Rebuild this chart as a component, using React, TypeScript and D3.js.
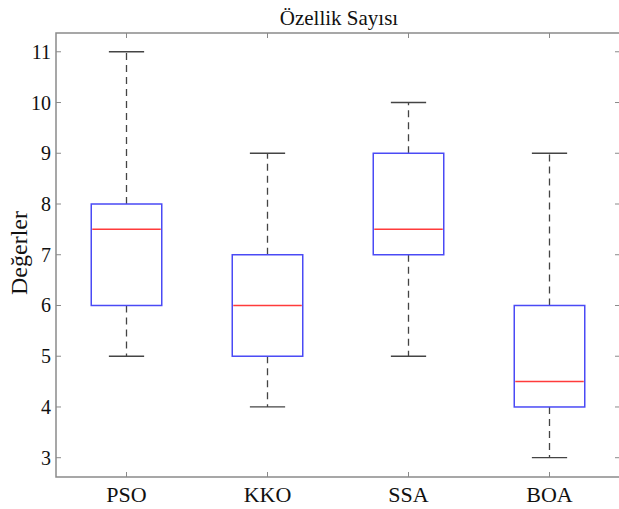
import React, { useEffect, useRef } from "react";
import * as d3 from "d3";

// Box plot values
const categories = ["PSO", "KKO", "SSA", "BOA"];
const whiskerLow = [5, 4, 5, 3];
const quartile1 = [6, 5, 7, 4];
const medians = [7.5, 6, 7.5, 4.5];
const quartile3 = [8, 7, 9, 6];
const whiskerHigh = [11, 9, 10, 9];
const yTicks = [3, 4, 5, 6, 7, 8, 9, 10, 11];

const App = () => {
  const svgRef = useRef<SVGSVGElement | null>(null);

  useEffect(() => {
    const svg = d3.select(svgRef.current);
    svg.selectAll("*").remove();

    const width = 619;
    const height = 509;
    const margin = { top: 33, right: -1, bottom: 32, left: 56 };
    const innerW = width - margin.left - margin.right;
    const innerH = height - margin.top - margin.bottom;
    const font = "'Liberation Serif', 'Times New Roman', serif";

    const g = svg
      .append("g")
      .attr("transform", `translate(${margin.left},${margin.top})`);

    const x = d3.scaleLinear().domain([0.5, categories.length + 0.5]).range([0, innerW]);
    const y = d3.scaleLinear().domain([2.62, 11.37]).range([innerH, 0]);

    const step = x(2) - x(1);
    const boxW = step * 0.5;
    const capW = boxW * 0.5;

    // Frame
    g.append("rect")
      .attr("x", 0)
      .attr("y", 0)
      .attr("width", innerW)
      .attr("height", innerH)
      .attr("fill", "white")
      .attr("stroke", "#8a8a8a")
      .attr("stroke-width", 1.5);

    // Y ticks (inward, left and right)
    yTicks.forEach((t) => {
      g.append("line")
        .attr("x1", 0).attr("x2", 5)
        .attr("y1", y(t)).attr("y2", y(t))
        .attr("stroke", "#8a8a8a");
      g.append("line")
        .attr("x1", innerW).attr("x2", innerW - 5)
        .attr("y1", y(t)).attr("y2", y(t))
        .attr("stroke", "#8a8a8a");
      g.append("text")
        .attr("x", -5)
        .attr("y", y(t))
        .attr("dy", "0.35em")
        .attr("text-anchor", "end")
        .style("font-family", font)
        .style("font-size", "20px")
        .attr("fill", "#111")
        .text(t);
    });

    // X ticks (inward, bottom and top)
    categories.forEach((c, i) => {
      const cx = x(i + 1);
      g.append("line")
        .attr("x1", cx).attr("x2", cx)
        .attr("y1", innerH).attr("y2", innerH - 5)
        .attr("stroke", "#8a8a8a");
      g.append("line")
        .attr("x1", cx).attr("x2", cx)
        .attr("y1", 0).attr("y2", 5)
        .attr("stroke", "#8a8a8a");
      g.append("text")
        .attr("x", cx)
        .attr("y", innerH + 25)
        .attr("text-anchor", "middle")
        .style("font-family", font)
        .style("font-size", "22px")
        .attr("fill", "#111")
        .text(c);
    });

    // Boxes
    categories.forEach((c, i) => {
      const cx = x(i + 1);
      const whisk = g.append("g")
        .attr("stroke", "#444")
        .attr("stroke-width", 1.3);
      whisk.append("line")
        .attr("x1", cx).attr("x2", cx)
        .attr("y1", y(quartile3[i])).attr("y2", y(whiskerHigh[i]))
        .attr("stroke-dasharray", "7,5");
      whisk.append("line")
        .attr("x1", cx).attr("x2", cx)
        .attr("y1", y(quartile1[i])).attr("y2", y(whiskerLow[i]))
        .attr("stroke-dasharray", "7,5");
      whisk.append("line")
        .attr("x1", cx - capW / 2).attr("x2", cx + capW / 2)
        .attr("y1", y(whiskerHigh[i])).attr("y2", y(whiskerHigh[i]));
      whisk.append("line")
        .attr("x1", cx - capW / 2).attr("x2", cx + capW / 2)
        .attr("y1", y(whiskerLow[i])).attr("y2", y(whiskerLow[i]));

      g.append("rect")
        .attr("x", cx - boxW / 2)
        .attr("y", y(quartile3[i]))
        .attr("width", boxW)
        .attr("height", y(quartile1[i]) - y(quartile3[i]))
        .attr("fill", "none")
        .attr("stroke", "#4a4af5")
        .attr("stroke-width", 1.5);

      g.append("line")
        .attr("x1", cx - boxW / 2 + 1).attr("x2", cx + boxW / 2 - 1)
        .attr("y1", y(medians[i])).attr("y2", y(medians[i]))
        .attr("stroke", "#ff3b3b")
        .attr("stroke-width", 1.5);
    });

    // Title
    svg.append("text")
      .attr("x", 339)
      .attr("y", 25)
      .attr("text-anchor", "middle")
      .style("font-family", font)
      .style("font-size", "21px")
      .attr("fill", "#111")
      .text("Özellik Sayısı");

    // Y label
    svg.append("text")
      .attr("transform", `translate(27,${margin.top + innerH / 2 - 2}) rotate(-90)`)
      .attr("text-anchor", "middle")
      .style("font-family", font)
      .style("font-size", "24px")
      .attr("fill", "#111")
      .text("Değerler");
  }, []);

  return (
    <svg
      ref={svgRef}
      width={619}
      height={509}
      style={{ position: "absolute", left: 0, top: 0, background: "white" }}
    ></svg>
  );
};

export default App;
